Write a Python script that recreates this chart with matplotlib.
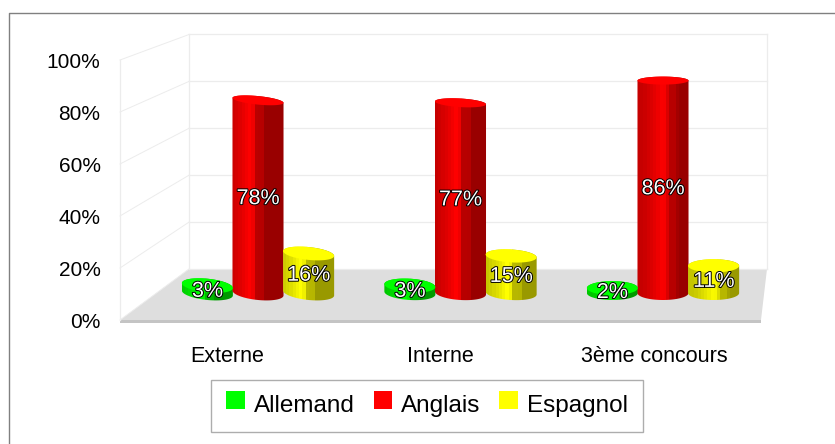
import matplotlib
matplotlib.use("Agg")
import matplotlib.pyplot as plt
import matplotlib.patheffects as pe
from matplotlib.patches import Polygon, Patch
import numpy as np

W, H = 835, 444

categories = ["Externe", "Interne", "3ème concours"]
series_names = ["Allemand", "Anglais", "Espagnol"]
allemand = [3, 3, 2]
anglais = [78, 77, 86]
espagnol = [16, 15, 11]
series_values = [allemand, anglais, espagnol]
series_colors = ["#00ff00", "#ff0000", "#ffff00"]
y_ticks = [0, 20, 40, 60, 80, 100]

plt.rcParams['font.family'] = ['Liberation Sans', 'DejaVu Sans']


# pixel box (top-left origin) to figure fractions
def px_axes(fig, x0, x1, y_top, y_bottom, **kw):
    return fig.add_axes([x0/W, 1-y_bottom/H, (x1-x0)/W, (y_bottom-y_top)/H], **kw)


fig = plt.figure(figsize=(W/100, H/100), dpi=100, facecolor='white')

##################
# Background: frame, walls and floor, in pixel coordinates
bg = px_axes(fig, 0, W, 0, H)
bg.set_xlim(0, W)
bg.set_ylim(H, 0)
bg.axis('off')

bg.plot([8.5, 8.5, W+5], [H+5, 13.5, 13.5], color='#808080', lw=1)

grid_c = '#ececec'
front_y = lambda v: 320 - v*2.6
back_y = lambda v: 269 - v*2.345
for v in y_ticks:
    bg.plot([120, 189], [front_y(v), back_y(v)], color=grid_c, lw=0.7)
    bg.plot([189, 767], [back_y(v), back_y(v)], color=grid_c, lw=0.9)
bg.plot([120, 120], [front_y(0), front_y(100)], color=grid_c, lw=0.9)
bg.plot([189, 189], [back_y(0), back_y(100)], color=grid_c, lw=0.9)
bg.plot([767, 767], [back_y(0), back_y(100)], color=grid_c, lw=0.9)

bg.add_patch(Polygon([(120, 320), (761, 320), (761, 323), (120, 323)], fc='#c4c4c4', ec='none'))
bg.add_patch(Polygon([(120, 320), (189, 269), (767, 269), (761, 320)], fc='#dedede', ec='none'))

##################
# Front scale: tick labels only
ax = px_axes(fig, 120, 761, 60, 320)
ax.patch.set_alpha(0)
ax.set_xlim(-0.5, 2.5)
ax.set_ylim(0, 100)
ax.set_yticks(y_ticks)
ax.set_yticklabels([f"{v}%" for v in y_ticks], fontsize=15)
ax.set_xticks(range(len(categories)))
ax.set_xticklabels(categories, fontsize=15.5)
ax.tick_params(axis='y', length=0, pad=14, colors='black')
ax.tick_params(axis='x', length=0, pad=19, colors='black')
for s in ax.spines.values():
    s.set_visible(False)

##################
# Cylinders, on their own scale (they stand further back on the floor)
# axes reach below 0 so the rounded bases are not cut off
bars = px_axes(fig, 156.75, 764.25, 46, 293 + 10*2.47)
bars.patch.set_alpha(0)

offsets = [-0.25, 0, 0.25]
half_w = 0.126
tilts = [1.0, 0.6, 0.0]
shade_shift = [-0.06, 0.0, 0.09]
t_lo = np.linspace(np.pi, 2*np.pi, 40)
t_hi = np.linspace(0, np.pi, 40)
band_pos = np.array([0, 0.2, 0.38, 0.46, 0.5, 0.62, 0.68, 1])
band_val = np.array([0.78, 0.88, 1.0, 0.92, 0.72, 0.72, 0.6, 0.6])


def ellipse_pts(cx, cy, a, b, tilt, t):
    return np.column_stack([cx + a*np.cos(t), cy + b*np.sin(t) + tilt*np.cos(t)])


def cylinder(x, value, color, tilt, shift):
    rgb = np.array(matplotlib.colors.to_rgb(color))
    # the base ellipse stays round, the top flattens with height
    b_base = 7 / 2.47
    b_top = (7 - value*0.035) / 2.47
    frac = np.floor(np.linspace(0, 1, 200)*16)/16
    shade = np.interp(frac, band_pos + shift, band_val)
    img = (shade[:, None]*rgb)[None, :, :]
    side = np.vstack([ellipse_pts(x, 0, half_w, b_base, -tilt, t_lo),
                      ellipse_pts(x, value, half_w, b_top, -tilt, t_hi)])
    im = bars.imshow(img, extent=[x-half_w, x+half_w, -b_base-2, value+b_top+2],
                     aspect='auto', interpolation='nearest', zorder=3)
    im.set_clip_path(Polygon(side, transform=bars.transData))
    top = ellipse_pts(x, value, half_w, b_top, -tilt, np.linspace(0, 2*np.pi, 80))
    bars.add_patch(Polygon(top, fc=color, ec='none', zorder=4))


outline = [pe.withStroke(linewidth=1.4, foreground='black')]
for i in range(len(categories)):
    for j, vals in enumerate(series_values):
        cylinder(i + offsets[j], vals[i], series_colors[j], tilts[i], shade_shift[i])
    for j, vals in enumerate(series_values):
        bars.text(i + offsets[j], vals[i]/2 - 0.8, f"{vals[i]}%", ha='center', va='center',
                  fontsize=15.5, color='white', path_effects=outline, zorder=6)
bars.set_xlim(-0.5, 2.5)
bars.set_ylim(-10, 100)
bars.axis('off')

##################
# Legend
handles = [Patch(fc=c, ec='none', label=n) for c, n in zip(series_colors, series_names)]
leg = fig.legend(handles=handles, ncol=3, loc='center', bbox_to_anchor=(427/W, 1-406/H),
                 fontsize=17.5, frameon=True, fancybox=False, edgecolor='#999999',
                 handlelength=0.76, handleheight=0.76, handletextpad=0.37, columnspacing=0.78,
                 borderpad=0.62, borderaxespad=0)
leg.get_frame().set_linewidth(1)
for h in leg.legend_handles:
    h.set_y(h.get_y() + 3)

fig.savefig("out.png", dpi=100, facecolor='white')
